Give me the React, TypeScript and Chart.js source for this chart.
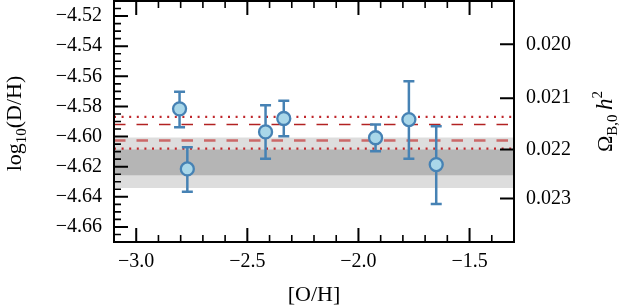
import React, { useEffect, useRef } from "react";
import { Chart, registerables } from "chart.js";
Chart.register(...registerables);

// ---- data ----
const ohValues = [-2.805, -2.77, -2.418, -2.336, -1.923, -1.773, -1.65];
const logDHValues = [-4.5816, -4.6215, -4.5969, -4.588, -4.6008, -4.5887, -4.6186];
const errUpper = [-4.5703, -4.6071, -4.5792, -4.5763, -4.592, -4.5632, -4.5931];
const errLower = [-4.5938, -4.6366, -4.6148, -4.5998, -4.6098, -4.6148, -4.6447];

const lightBand = [-4.6007, -4.6341];
const darkBand = [-4.6086, -4.6257];
const dottedLines = [-4.5869, -4.608];
const dashedUpper = -4.592;
const dashedLower = -4.6026;

const xTickValues = [-3.0, -2.5, -2.0, -1.5];
const yTickValues = [-4.66, -4.64, -4.62, -4.6, -4.58, -4.56, -4.54, -4.52];
const omegaTicks = [0.02, 0.021, 0.022, 0.023];

const XMIN = -3.1, XMAX = -1.3, YMIN = -4.67, YMAX = -4.51;

// log10(D/H) as a function of Omega_B h^2 (axis conversion)
const omegaToLog = (o: number) => -4.6086 - 1.687 * Math.log10(o / 0.022);

const BLUE = "#4682b4";
const FONT = "'Liberation Serif', 'Times New Roman', serif";
const minus = (s: string) => s.replace("-", "\u2212");

const hline = (y: number) => [{ x: XMIN, y }, { x: XMAX, y }];

type Seg = { t: string; size: number; dy: number; italic?: boolean };
function drawRich(ctx: CanvasRenderingContext2D, segs: Seg[], x: number, y: number, rotate: boolean) {
  ctx.save();
  ctx.translate(x, y);
  if (rotate) ctx.rotate(-Math.PI / 2);
  ctx.fillStyle = "#000";
  ctx.textAlign = "left";
  ctx.textBaseline = "alphabetic";
  const f = (s: Seg) => `${s.italic ? "italic " : ""}${s.size}px ${FONT}`;
  let total = 0;
  const widths = segs.map((s) => {
    ctx.font = f(s);
    const w = ctx.measureText(s.t).width;
    total += w;
    return w;
  });
  let cx = -total / 2;
  segs.forEach((s, i) => {
    ctx.font = f(s);
    ctx.fillText(s.t, cx, s.dy);
    cx += widths[i];
  });
  ctx.restore();
}

const errorBarPlugin = {
  id: "errbars",
  beforeDatasetDraw(chart: any, args: any) {
    if (args.index !== 0) return;
    const { ctx, scales } = chart;
    const x = scales.x, y = scales.y;
    ctx.save();
    ctx.strokeStyle = BLUE;
    ctx.lineWidth = 2.5;
    ohValues.forEach((v, i) => {
      const px = x.getPixelForValue(v);
      const p1 = y.getPixelForValue(errUpper[i]);
      const p2 = y.getPixelForValue(errLower[i]);
      ctx.beginPath();
      ctx.moveTo(px, p1);
      ctx.lineTo(px, p2);
      ctx.moveTo(px - 5.5, p1);
      ctx.lineTo(px + 5.5, p1);
      ctx.moveTo(px - 5.5, p2);
      ctx.lineTo(px + 5.5, p2);
      ctx.stroke();
    });
    ctx.restore();
  },
};

const framePlugin = {
  id: "frame",
  afterDraw(chart: any) {
    const { ctx, chartArea: a, scales } = chart;
    const x = scales.x, y = scales.y, y2 = scales.y2;
    ctx.save();
    ctx.strokeStyle = "#000";
    // ticks
    const MAJ = 14, MIN = 7;
    ctx.lineWidth = 2;
    ctx.beginPath();
    xTickValues.forEach((v) => {
      const p = x.getPixelForValue(v);
      ctx.moveTo(p, a.bottom); ctx.lineTo(p, a.bottom - MAJ);
      ctx.moveTo(p, a.top); ctx.lineTo(p, a.top + MAJ);
    });
    yTickValues.forEach((v) => {
      const p = y.getPixelForValue(v);
      ctx.moveTo(a.left, p); ctx.lineTo(a.left + MAJ, p);
    });
    omegaTicks.forEach((o) => {
      const p = y2.getPixelForValue(omegaToLog(o));
      ctx.moveTo(a.right, p); ctx.lineTo(a.right - MAJ, p);
    });
    ctx.stroke();
    ctx.lineWidth = 1.6;
    ctx.beginPath();
    for (let k = -31; k <= -13; k++) {
      const v = k / 10;
      if (Math.abs(v * 2 - Math.round(v * 2)) < 1e-6) continue;
      const p = x.getPixelForValue(v);
      ctx.moveTo(p, a.bottom); ctx.lineTo(p, a.bottom - MIN);
      ctx.moveTo(p, a.top); ctx.lineTo(p, a.top + MIN);
    }
    for (let k = -934; k <= -902; k++) {
      const v = k / 200;
      if (k % 4 === 0) continue;
      const p = y.getPixelForValue(v);
      if (p < a.top || p > a.bottom) continue;
      ctx.moveTo(a.left, p); ctx.lineTo(a.left + MIN, p);
    }
    ctx.stroke();
    // frame
    ctx.lineWidth = 2;
    ctx.strokeRect(a.left, a.top, a.right - a.left, a.bottom - a.top);
    ctx.restore();

    // titles
    const cy = (a.top + a.bottom) / 2;
    drawRich(ctx, [
      { t: "log", size: 22, dy: 0 },
      { t: "10", size: 15, dy: 5 },
      { t: "(D/H)", size: 22, dy: 0 },
    ], 21, cy + 2, true);
    drawRich(ctx, [
      { t: "\u03A9", size: 22, dy: 0 },
      { t: "B,0", size: 15, dy: 5 },
      { t: "\u2009", size: 22, dy: 0 },
      { t: "h", size: 23, dy: 0, italic: true },
      { t: "2", size: 15, dy: -10 },
    ], 612, cy, true);
    drawRich(ctx, [{ t: "[O/H]", size: 22, dy: 0 }], (a.left + a.right) / 2, 301, false);
  },
};

export default function App() {
  const ref = useRef<HTMLCanvasElement | null>(null);
  useEffect(() => {
    if (!ref.current) return;
    const lineDs = (y: number, color: string, width: number, dash: number[], order: number) => ({
      data: hline(y),
      showLine: true,
      borderColor: color,
      borderWidth: width,
      borderDash: dash,
      pointRadius: 0,
      fill: false,
      order,
    });
    const chart = new Chart(ref.current, {
      type: "scatter",
      data: {
        datasets: [
          {
            data: ohValues.map((x, i) => ({ x, y: logDHValues[i] })),
            pointRadius: 6.5,
            pointBackgroundColor: "#a9d7e9",
            pointBorderColor: BLUE,
            pointBorderWidth: 2.3,
            order: 0,
          } as any,
          lineDs(dottedLines[0], "#c0282d", 2.2, [2, 5.6], 2),
          lineDs(dottedLines[1], "#c0282d", 2.2, [2, 5.6], 2),
          lineDs(dashedUpper, "#b22222", 1.5, [11.5, 11], 2),
          lineDs(dashedLower, "rgba(196,64,64,0.75)", 2.5, [11.5, 11], 2),
          {
            data: hline(lightBand[0]), showLine: true, borderWidth: 0, borderColor: "transparent",
            pointRadius: 0, fill: "+1", backgroundColor: "#dddddd", order: 6,
          } as any,
          {
            data: hline(lightBand[1]), showLine: true, borderWidth: 0, borderColor: "transparent",
            pointRadius: 0, fill: false, order: 7,
          } as any,
          {
            data: hline(darkBand[0]), showLine: true, borderWidth: 0, borderColor: "transparent",
            pointRadius: 0, fill: "+1", backgroundColor: "#b5b5b5", order: 4,
          } as any,
          {
            data: hline(darkBand[1]), showLine: true, borderWidth: 0, borderColor: "transparent",
            pointRadius: 0, fill: false, order: 5,
          } as any,
        ],
      },
      options: {
        responsive: false,
        animation: false,
        devicePixelRatio: 1,
        layout: { autoPadding: false, padding: { top: 1, left: 0, right: 0, bottom: 0 } },
        plugins: { legend: { display: false }, tooltip: { enabled: false } },
        scales: {
          x: {
            type: "linear",
            min: XMIN,
            max: XMAX,
            grid: { display: false, drawTicks: false },
            border: { display: false },
            ticks: {
              autoSkip: false,
              maxRotation: 0,
              padding: 8,
              color: "#000",
              font: { family: FONT, size: 20 },
              callback: (v: any) => minus(Number(v).toFixed(1)),
            },
            afterBuildTicks: (s: any) => { s.ticks = xTickValues.map((v) => ({ value: v })); },
            afterFit: (s: any) => { s.height = 63; s.paddingLeft = 0; s.paddingRight = 0; },
          },
          y: {
            type: "linear",
            position: "left",
            min: YMIN,
            max: YMAX,
            grid: { display: false, drawTicks: false },
            border: { display: false },
            ticks: {
              autoSkip: false,
              padding: 12,
              color: "#000",
              font: { family: FONT, size: 20 },
              callback: (v: any) => minus(Number(v).toFixed(2)),
            },
            afterBuildTicks: (s: any) => { s.ticks = yTickValues.map((v) => ({ value: v })); },
            afterFit: (s: any) => { s.width = 114; s.paddingTop = 0; s.paddingBottom = 0; },
          },
          y2: {
            type: "linear",
            position: "right",
            min: YMIN,
            max: YMAX,
            grid: { display: false, drawTicks: false },
            border: { display: false },
            ticks: {
              autoSkip: false,
              padding: 12,
              color: "#000",
              font: { family: FONT, size: 20 },
              callback: (_v: any, i: number) => omegaTicks[i].toFixed(3),
            },
            afterBuildTicks: (s: any) => { s.ticks = omegaTicks.map((o) => ({ value: omegaToLog(o) })); },
            afterFit: (s: any) => { s.width = 109; s.paddingTop = 0; s.paddingBottom = 0; },
          },
        },
      } as any,
      plugins: [errorBarPlugin, framePlugin],
    });
    return () => chart.destroy();
  }, []);
  return (
    <div style={{ position: "absolute", left: 0, top: 0, width: 623, height: 305, background: "#fff" }}>
      <canvas ref={ref} width={623} height={305} style={{ width: 623, height: 305 }} />
    </div>
  );
}
